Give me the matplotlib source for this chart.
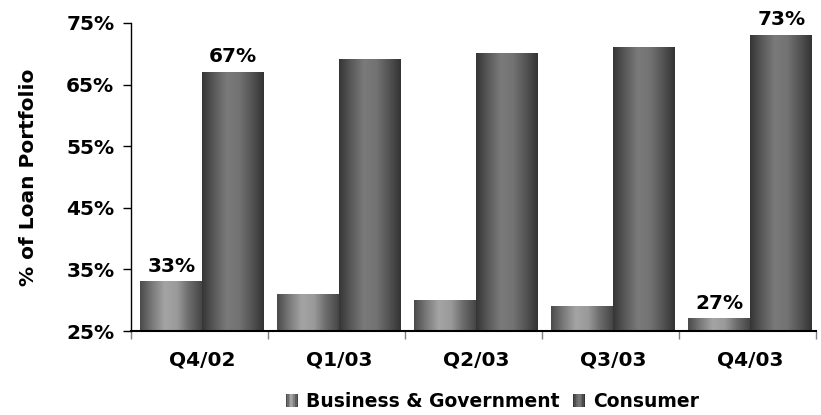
import numpy as np
import matplotlib
matplotlib.use("Agg")
import matplotlib.pyplot as plt
from matplotlib.patches import Rectangle
from matplotlib.legend_handler import HandlerBase
from matplotlib.colors import LinearSegmentedColormap

quarters = ["Q4/02", "Q1/03", "Q2/03", "Q3/03", "Q4/03"]
business = [33, 31, 30, 29, 27]
consumer = [67, 69, 70, 71, 73]
business_labels = ["33%", None, None, None, "27%"]
consumer_labels = ["67%", None, None, None, "73%"]
yticks = [25, 35, 45, 55, 65, 75]

plt.rcParams["font.family"] = "DejaVu Sans"
plt.rcParams["font.weight"] = "bold"
FS = 14.5

# cylinder-like horizontal shading for each series
cmap_bus = LinearSegmentedColormap.from_list(
    "bus", ["#4a4a4a", "#7a7a7a", "#a4a4a4", "#9a9a9a", "#6a6a6a", "#454545"])
cmap_con = LinearSegmentedColormap.from_list(
    "con", ["#353535", "#5a5a5a", "#7a7a7a", "#737373", "#555555", "#333333"])

fig = plt.figure(figsize=(8.21, 4.15), dpi=100)
ax = fig.add_axes([131 / 821, 84 / 415, 685 / 821, 308 / 415])

x = np.arange(len(quarters))
w = 0.452
grad = np.linspace(0, 1, 256).reshape(1, -1)


def shaded_bars(xpos, vals, cmap):
    bars = ax.bar(xpos, [v - 25 for v in vals], w, bottom=25,
                  color="none", edgecolor="none")
    for b in bars:
        x0, y0 = b.get_x(), b.get_y()
        ax.imshow(grad, cmap=cmap, aspect="auto", interpolation="bilinear",
                  extent=[x0, x0 + b.get_width(), y0, y0 + b.get_height()],
                  zorder=2)
    return bars


bb = shaded_bars(x - w / 2 + 0.02, business, cmap_bus)
cb = shaded_bars(x + w / 2 + 0.02, consumer, cmap_con)

for bars, labels in ((bb, business_labels), (cb, consumer_labels)):
    for b, lab in zip(bars, labels):
        if lab:
            ax.text(b.get_x() + b.get_width() / 2, b.get_y() + b.get_height() + 1.0,
                    lab, ha="center", va="bottom", fontsize=FS, fontweight="bold")

ax.set_xlim(-0.5, len(quarters) - 0.5)
ax.set_ylim(25, 75)
ax.set_yticks(yticks)
ax.set_yticklabels([f"{t}%" for t in yticks])
ax.set_xticks(x + 0.02)
ax.set_xticklabels(quarters)
ax.set_xticks(np.arange(len(quarters) + 1) - 0.5, minor=True)
ax.tick_params(axis="x", which="major", length=0, pad=14, labelsize=FS)
ax.tick_params(axis="x", which="minor", length=6, width=1, direction="out",
               color="#808080")
ax.tick_params(axis="y", length=6, width=1, direction="out", labelsize=FS, pad=6)
for s in ("top", "right"):
    ax.spines[s].set_visible(False)
ax.spines["left"].set_linewidth(1)
ax.spines["bottom"].set_linewidth(1.5)
ax.set_ylabel("% of Loan Portfolio", fontsize=FS, fontweight="bold", labelpad=20)


class GradientHandler(HandlerBase):
    def __init__(self, cmap):
        super().__init__()
        self.cmap = cmap

    def create_artists(self, legend, orig_handle, xdescent, ydescent,
                       width, height, fontsize, trans):
        n = 8
        side = height * 0.95
        x0 = -xdescent + width - side
        arts = []
        for i in range(n):
            arts.append(Rectangle((x0 + i * side / n, -ydescent), side / n, side,
                                  facecolor=self.cmap(i / (n - 1)),
                                  edgecolor="none", transform=trans))
        return arts


h1 = Rectangle((0, 0), 1, 1)
h2 = Rectangle((0, 0), 1, 1)
fig.legend([h1, h2], ["Business & Government", "Consumer"],
           handler_map={h1: GradientHandler(cmap_bus), h2: GradientHandler(cmap_con)},
           loc="center", bbox_to_anchor=(491 / 821, 1 - 401 / 415), ncol=2,
           frameon=False, prop={"size": 13.5, "weight": "bold"},
           handlelength=0.8, handletextpad=0.4, columnspacing=0.6)

fig.savefig("out.png", dpi=100)
